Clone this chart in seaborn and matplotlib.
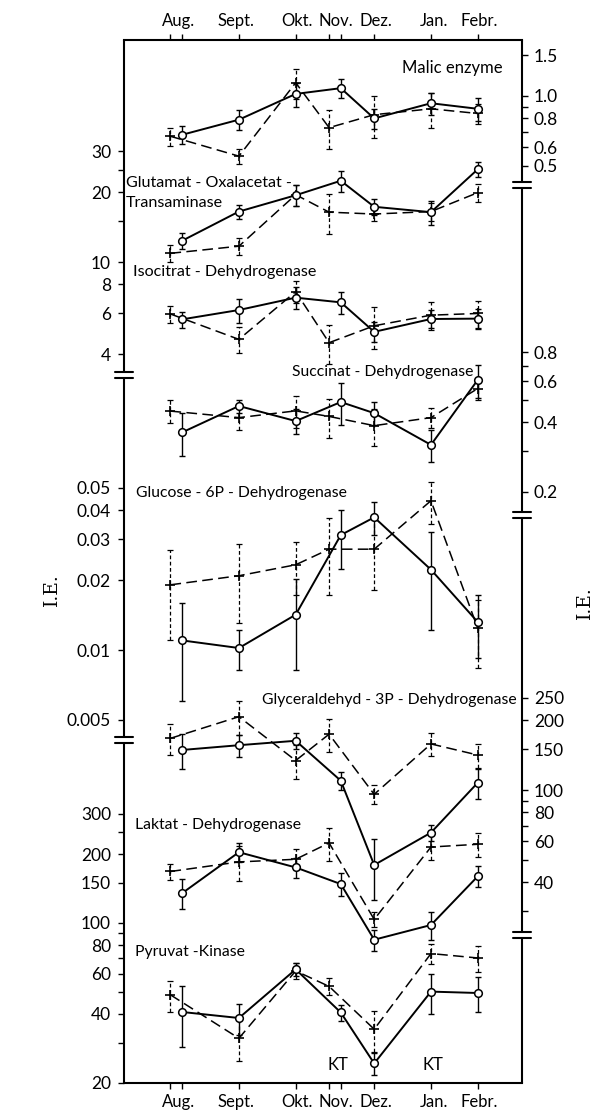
import numpy as np
import pandas as pd
import matplotlib
matplotlib.use("Agg")
import matplotlib.pyplot as plt
from matplotlib.lines import Line2D
from matplotlib.ticker import FixedLocator, NullLocator, NullFormatter
import seaborn as sns

# ---------------- data ----------------
months = ["Aug.", "Sept.", "Okt.", "Nov.", "Dez.", "Jan.", "Febr."]
month_pos = [5, 39, 76, 99, 123, 158, 185]          # label positions (days)
days_plus = [0, 41, 75, 95, 122, 156, 184]           # dashed series (+)
days_circ = [7, 41, 75, 102, 122, 156, 184]          # solid series (o)

malic_plus = [0.67, 0.55, 1.14, 0.73, 0.83, 0.88, 0.84]
malic_plus_sd = [0.06, 0.04, 0.17, 0.14, 0.17, 0.15, 0.08]
malic_circ = [0.68, 0.79, 1.02, 1.08, 0.80, 0.93, 0.88]
malic_circ_sd = [0.06, 0.08, 0.12, 0.10, 0.08, 0.10, 0.10]

got_plus = [10.9, 11.7, 19.5, 16.4, 16.1, 16.5, 19.9]
got_plus_sd = [0.9, 1.0, 2.0, 3.2, 1.1, 1.5, 1.7]
got_circ = [12.35, 16.5, 19.4, 22.4, 17.3, 16.4, 25.1]
got_circ_sd = [1.0, 1.1, 2.0, 2.3, 1.3, 2.0, 1.9]

icd_plus = [5.97, 4.64, 7.45, 4.49, 5.31, 5.9, 6.0]
icd_plus_sd = [0.5, 0.6, 0.8, 0.85, 1.1, 0.8, 0.8]
icd_circ = [5.66, 6.21, 7.02, 6.7, 5.0, 5.68, 5.7]
icd_circ_sd = [0.45, 0.75, 0.75, 0.75, 0.5, 0.5, 0.55]

sdh_plus = [0.446, 0.418, 0.447, 0.423, 0.386, 0.418, 0.558]
sdh_plus_sd = [0.05, 0.05, 0.07, 0.08, 0.07, 0.04, 0.06]
sdh_circ = [0.361, 0.469, 0.404, 0.488, 0.437, 0.319, 0.608]
sdh_circ_sd = [0.075, 0.03, 0.05, 0.10, 0.05, 0.05, 0.10]

g6p_plus = [0.0191, 0.0209, 0.0233, 0.0272, 0.0272, 0.044, 0.0124]
g6p_plus_sd = [0.008, 0.0078, 0.006, 0.010, 0.009, 0.009, 0.004]
g6p_circ = [0.0110, 0.0102, 0.0142, 0.0313, 0.0373, 0.0222, 0.0132]
g6p_circ_sd = [0.005, 0.002, 0.006, 0.009, 0.006, 0.010, 0.004]

gap_plus = [167, 207, 134, 174, 95.8, 158, 141.5]
gap_plus_sd = [25, 35, 22, 28, 9, 18, 17]
gap_circ = [148.8, 156, 163, 109.7, 47.5, 65.5, 107.5]
gap_circ_sd = [26, 17, 13, 10, 14, 5, 16]

ldh_plus = [168, 185, 190, 224, 103.7, 215, 221]
ldh_plus_sd = [14, 33, 20, 37, 8, 27, 27]
ldh_circ = [135, 204, 175, 148, 84.5, 98, 160]
ldh_circ_sd = [20, 20, 18, 17, 9, 14, 17]

pk_plus = [48.5, 31.3, 61.7, 52.8, 34.3, 73.5, 70.3]
pk_plus_sd = [7.5, 6.4, 5, 4.5, 7, 7.5, 9]
pk_circ = [40.8, 38.4, 62.7, 40.6, 24.3, 50.1, 49.4]
pk_circ_sd = [12, 6, 4, 3.3, 2.6, 10, 8.5]

# ---------------- style ----------------
sns.set_theme(style="ticks")
plt.rcParams["font.family"] = ["Lato", "DejaVu Sans"]
plt.rcParams["axes.linewidth"] = 1.5

W, H = 597, 1117
fig = plt.figure(figsize=(W / 100, H / 100), dpi=100)
fig.patch.set_facecolor("white")
L, R, T, B = 123.5, 521.5, 40, 1083
rect = [L / W, 1 - B / H, (R - L) / W, (B - T) / H]
XLIM = (-28.1, 210.2)

ax0 = fig.add_axes(rect)
ax0.set_xlim(*XLIM)
ax0.set_ylim(0, 1)
ax0.set_yticks([])
ax0.patch.set_visible(False)
for s in ["left", "right"]:
    ax0.spines[s].set_visible(False)
for s in ["top", "bottom"]:
    ax0.spines[s].set_linewidth(1.5)
    ax0.spines[s].set_color("black")
ax0.set_xticks(sorted(set(days_plus + days_circ)))
ax0.set_xticklabels([])
ax0.set_xticks(month_pos, minor=True)
ax0.set_xticklabels(months, minor=True)
ax0.tick_params(axis="x", which="major", direction="out", length=4, width=1,
                color="black", top=True, bottom=True)
ax0.tick_params(axis="x", which="minor", length=0, top=True, bottom=True,
                labeltop=True, labelbottom=True, pad=8, labelsize=12,
                labelcolor="black")

# ---------------- scale groups (layout) ----------------
scales = {
    "A": ("left", (10 ** -2.539, 10 ** 1.957),
          [30, 25, 20, 15, 10, 8, 6, 4], ["30", "", "20", "", "10", "8", "6", "4"]),
    "B": ("left", (10 ** -3.866, 10 ** 0.629),
          [0.05, 0.04, 0.03, 0.02, 0.01, 0.005],
          ["0.05", "0.04", "0.03", "0.02", "0.01", "0.005"]),
    "C": ("left", (10 ** 1.300, 10 ** 5.863),
          [300, 250, 200, 150, 100, 90, 80, 70, 60, 50, 40, 30, 20],
          ["300", "", "200", "150", "100", "", "80", "", "60", "", "40", "", "20"]),
    "D": ("right", (10 ** -4.254, 10 ** 0.241),
          [1.5, 1.0, 0.9, 0.8, 0.7, 0.6, 0.5],
          ["1.5", "1.0", "", "0.8", "", "0.6", "0.5"]),
    "E": ("right", (10 ** -3.247, 10 ** 1.249),
          [0.8, 0.7, 0.6, 0.5, 0.4, 0.3, 0.2],
          ["0.8", "", "0.6", "", "0.4", "", "0.2"]),
    "F": ("right", (10 ** 0.737, 10 ** 5.233),
          [250, 200, 150, 100, 90, 80, 70, 60, 50, 40, 30],
          ["250", "200", "150", "100", "", "80", "", "60", "", "40", ""]),
}

axes = {}
for key, (side, ylim, ticks, labels) in scales.items():
    ax = fig.add_axes(rect)
    ax.patch.set_visible(False)
    ax.set_xlim(*XLIM)
    ax.set_xticks([])
    ax.set_yscale("log")
    ax.set_ylim(*ylim)
    ax.yaxis.set_major_locator(FixedLocator(ticks))
    ax.yaxis.set_minor_locator(NullLocator())
    ax.yaxis.set_minor_formatter(NullFormatter())
    ax.set_yticklabels(labels)
    for s in ax.spines.values():
        s.set_visible(False)
    if side == "right":
        ax.yaxis.tick_right()
        ax.tick_params(axis="y", which="major", left=False, right=True,
                       labelleft=False, labelright=True)
    else:
        ax.tick_params(axis="y", which="major", left=True, right=False,
                       labelleft=True, labelright=False)
    ax.tick_params(axis="y", which="major", direction="out", length=4, width=1,
                   color="black", pad=5, labelsize=12.5, labelcolor="black")
    axes[key] = ax

panels = [
    ("D", malic_plus, malic_plus_sd, malic_circ, malic_circ_sd),
    ("A", got_plus, got_plus_sd, got_circ, got_circ_sd),
    ("A", icd_plus, icd_plus_sd, icd_circ, icd_circ_sd),
    ("E", sdh_plus, sdh_plus_sd, sdh_circ, sdh_circ_sd),
    ("B", g6p_plus, g6p_plus_sd, g6p_circ, g6p_circ_sd),
    ("F", gap_plus, gap_plus_sd, gap_circ, gap_circ_sd),
    ("C", ldh_plus, ldh_plus_sd, ldh_circ, ldh_circ_sd),
    ("C", pk_plus, pk_plus_sd, pk_circ, pk_circ_sd),
]

for key, yp, sp, yc, sc in panels:
    ax = axes[key]
    dfp = pd.DataFrame({"day": days_plus, "value": yp, "sd": sp})
    dfc = pd.DataFrame({"day": days_circ, "value": yc, "sd": sc})
    eb = ax.errorbar(dfp["day"], dfp["value"], yerr=dfp["sd"], fmt="none",
                     ecolor="black", elinewidth=0.9, capsize=2, capthick=0.9,
                     zorder=2)
    eb[2][0].set_linestyle((0, (3, 2)))
    sns.lineplot(data=dfp, x="day", y="value", ax=ax, color="black",
                 linewidth=1.1, linestyle=(0, (7, 3.5)), marker="+",
                 markersize=7, markeredgewidth=1.2, markeredgecolor="black",
                 errorbar=None, legend=False, zorder=3)
    ax.errorbar(dfc["day"], dfc["value"], yerr=dfc["sd"], fmt="none",
                ecolor="black", elinewidth=1.0, capsize=2, capthick=1.0,
                zorder=4)
    sns.lineplot(data=dfc, x="day", y="value", ax=ax, color="black",
                 linewidth=1.4, marker="o", markersize=5.5,
                 markerfacecolor="white", markeredgecolor="black",
                 markeredgewidth=1.1, errorbar=None, legend=False, zorder=5)
    ax.set_xlabel("")
    ax.set_ylabel("")
    ax.set_xlim(*XLIM)


# ---------------- frame with axis breaks ----------------
def fx(px):
    return px / W


def fy(py):
    return 1 - py / H


def vline(x, y0, y1):
    fig.add_artist(Line2D([fx(x), fx(x)], [fy(y0), fy(y1)], color="black",
                          lw=1.5, transform=fig.transFigure, zorder=10))


def brk(x, y):
    for yy in (y - 3, y + 3):
        fig.add_artist(Line2D([fx(x - 9), fx(x + 9)], [fy(yy), fy(yy)],
                              color="black", lw=1.5,
                              transform=fig.transFigure, zorder=10))


left_breaks = [375, 740]
right_breaks = [185, 515, 935]
for x, brks in ((L, left_breaks), (R, right_breaks)):
    edges = [T] + [v for b in brks for v in (b - 3, b + 3)] + [B]
    for i in range(0, len(edges), 2):
        vline(x, edges[i], edges[i + 1])
    for b in brks:
        brk(x, b)

# ---------------- labels ----------------
def label(px, py, s, ha="left", size=11.3):
    fig.text(fx(px), fy(py), s, ha=ha, va="center", fontsize=size,
             color="black")


label(503, 68, "Malic enzyme", ha="right", size=12)
label(126, 183, "Glutamat - Oxalacetat -", size=11.6)
label(126, 203, "Transaminase", size=11.6)
label(133, 272, "Isocitrat - Dehydrogenase", size=11.6)
label(292, 372, "Succinat - Dehydrogenase")
label(136, 493, "Glucose - 6P - Dehydrogenase")
label(517, 700, "Glyceraldehyd - 3P - Dehydrogenase", ha="right")
label(135, 825, "Laktat - Dehydrogenase")
label(135, 952, "Pyruvat -Kinase")
label(338, 1065, "KT", ha="center", size=12)
label(433, 1065, "KT", ha="center", size=12)

fig.text(fx(52), fy(590), "I.E.", rotation=90, ha="center", va="center",
         fontsize=13.5, family="DejaVu Serif", color="black")
fig.text(fx(585), fy(603), "I.E.", rotation=90, ha="center", va="center",
         fontsize=13.5, family="DejaVu Serif", color="black")

fig.savefig("out.png", dpi=100, facecolor="white")
